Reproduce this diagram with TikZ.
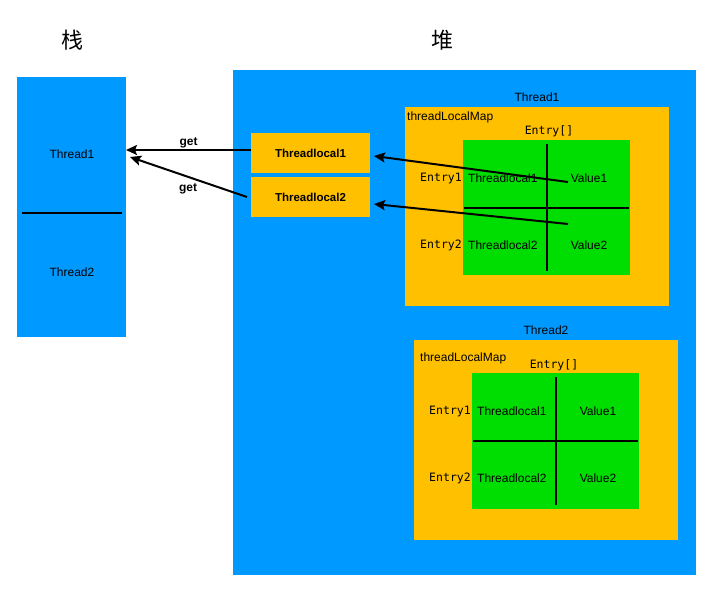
\documentclass[tikz,border=0pt]{standalone}
\usepackage{fontspec}
\setmainfont{Liberation Sans}
\setmonofont{DejaVu Sans Mono}
\newfontfamily\cjk{Noto Sans CJK SC}
\usetikzlibrary{arrows.meta}
\definecolor{heapblue}{HTML}{0099FF}
\definecolor{maporange}{HTML}{FFC000}
\definecolor{entrygreen}{HTML}{00DD00}
\begin{document}
\begin{tikzpicture}[x=1pt,y=-1pt,
    area/.style={inner sep=0pt,outer sep=0pt,anchor=north west},
    lbl/.style={inner sep=0pt,font=\fontsize{12}{14}\selectfont},
    boldlbl/.style={inner sep=0pt,font=\fontsize{11.5}{14}\selectfont\bfseries},
    mono/.style={inner sep=0pt,font=\fontsize{11.5}{14}\selectfont\ttfamily},
    bar/.style={line width=2pt},
    getarrow/.style={line width=2pt,-{Stealth[length=11pt,width=10pt,inset=2pt]}}]

    \useasboundingbox (0,0) rectangle (711,592);

% titles
    \node[font=\fontsize{22}{24}\selectfont\cjk] (stacktitle) at (72,40) {栈};
    \node[font=\fontsize{22}{24}\selectfont\cjk] (heaptitle) at (442,40) {堆};

% stack with the two threads
    \node[area,fill=heapblue,minimum width=109pt,minimum height=260pt] (stack) at (17,77) {};
    \node[lbl] (st1) at (72,154) {Thread1};
    \node[lbl] (st2) at (72,272) {Thread2};
    \draw[bar] (22,213) -- (122,213);

% heap
    \node[area,fill=heapblue,minimum width=463pt,minimum height=505pt] (heap) at (233,70) {};
    \node[area,fill=maporange,minimum width=119pt,minimum height=40pt] (tl1) at (251,133) {};
    \node[boldlbl] at (tl1.center) {Threadlocal1};
    \node[area,fill=maporange,minimum width=119pt,minimum height=40pt] (tl2) at (251,177) {};
    \node[boldlbl] at (tl2.center) {Threadlocal2};

% Thread1 on the heap
    \node[lbl] (th1) at (537,97) {Thread1};
    \node[area,fill=maporange,minimum width=264pt,minimum height=199pt] (map1) at (405,107) {};
    \node[lbl,anchor=west] (mapname1) at (407,117) {threadLocalMap};
    \node[mono] (arr1) at (549,131) {Entry[]};
    \node[area,fill=entrygreen,minimum width=167pt,minimum height=135pt] (grid1) at (463,140) {};
    \draw[bar] ([yshift=-4pt]grid1.north) -- ([yshift=4pt]grid1.south);
    \draw[bar] ([xshift=1pt]grid1.west) -- ([xshift=-1pt]grid1.east);
    \node[mono] (e11) at (441,178) {Entry1};
    \node[mono] (e12) at (441,245) {Entry2};
    \node[lbl,anchor=west] (k11) at (468,178) {Threadlocal1};
    \node[lbl,anchor=west] (k12) at (468,245) {Threadlocal2};
    \node[lbl] (v11) at (589,178) {Value1};
    \node[lbl] (v12) at (589,245) {Value2};

% Thread2 on the heap
    \node[lbl] (th2) at (546,330) {Thread2};
    \node[area,fill=maporange,minimum width=264pt,minimum height=200pt] (map2) at (414,340) {};
    \node[lbl,anchor=west] (mapname2) at (420,358) {threadLocalMap};
    \node[mono] (arr2) at (554,365) {Entry[]};
    \node[area,fill=entrygreen,minimum width=167pt,minimum height=136pt] (grid2) at (472,373) {};
    \draw[bar] ([yshift=-4pt]grid2.north) -- ([yshift=4pt]grid2.south);
    \draw[bar] ([xshift=1pt]grid2.west) -- ([xshift=-1pt]grid2.east);
    \node[mono] (e21) at (450,411) {Entry1};
    \node[mono] (e22) at (450,478) {Entry2};
    \node[lbl,anchor=west] (k21) at (477,411) {Threadlocal1};
    \node[lbl,anchor=west] (k22) at (477,478) {Threadlocal2};
    \node[lbl] (v21) at (598,411) {Value1};
    \node[lbl] (v22) at (598,478) {Value2};

% references from the entries back to the threadlocals
    \coordinate (ref1) at (568,182);
    \coordinate (ref2) at (568,224);
    \draw[getarrow] (ref1) -- ([shift={(4,3)}]tl1.east);
    \draw[getarrow] (ref2) -- ([shift={(4,7)}]tl2.east);

% get arrows to the stack
    \coordinate (getin) at (130,157);
    \draw[getarrow] ([yshift=3pt]tl1.west) -- ([yshift=3pt]tl1.west -| stack.east)
        node[midway,above=1pt,font=\fontsize{12}{14}\selectfont\bfseries,inner sep=0pt] {get};
    \draw[getarrow] ([shift={(-4,0)}]tl2.west) -- (getin);
    \node[font=\fontsize{12}{14}\selectfont\bfseries,inner sep=0pt] (get2) at (188,189) {get};

\end{tikzpicture}
\end{document}
